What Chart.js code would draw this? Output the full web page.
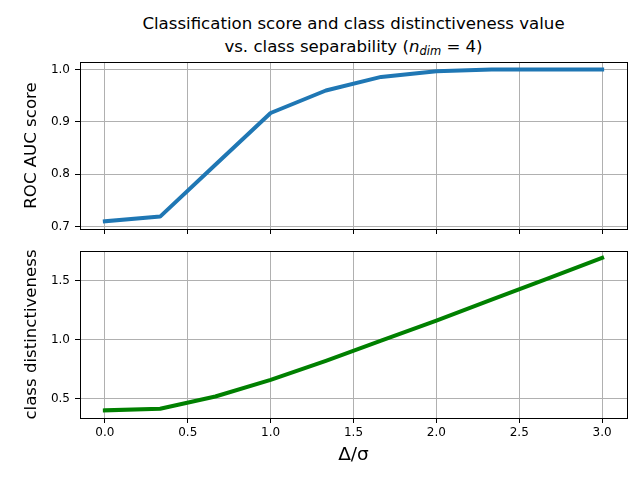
<!DOCTYPE html>
<html>
<head>
<meta charset="utf-8">
<script src="https://cdn.jsdelivr.net/npm/chart.js@4"></script>
<style>
  body { margin: 0; background: #fff; }
  #wrap { position: relative; width: 640px; height: 480px; font-family: "DejaVu Sans", sans-serif; }
  #title { position: absolute; left: 80px; width: 547px; top: 12px; text-align: center;
           font-size: 16.6px; line-height: 23px; color: #000; }
  #title sub { font-size: 11.5px; font-style: italic; vertical-align: -3px; line-height: 0; }
  canvas { position: absolute; left: 0; }
</style>
</head>
<body>
<div id="wrap">
  <div id="title">Classification score and class distinctiveness value<br>vs. class separability (<i>n</i><sub>dim</sub> = 4)</div>
  <canvas id="top" width="640" height="240" style="top:0"></canvas>
  <canvas id="bottom" width="640" height="240" style="top:240px"></canvas>
</div>
<script>
// delta / sigma
const separability = [0, 1/3, 2/3, 1, 4/3, 5/3, 2, 7/3, 8/3, 3];
const rocAuc = [0.710, 0.719, 0.818, 0.917, 0.960, 0.986, 0.997, 1.0, 1.0, 1.0];
const distinctiveness = [0.399, 0.413, 0.517, 0.659, 0.821, 0.992, 1.162, 1.341, 1.517, 1.697];

const xTicks = [0, 0.5, 1, 1.5, 2, 2.5, 3];
const rocTicks = [0.7, 0.8, 0.9, 1.0];
const distTicks = [0.5, 1.0, 1.5];

Chart.defaults.font.family = "DejaVu Sans";
Chart.defaults.color = "#000";

// matplotlib style box round the plot area
const boxPlugin = {
  id: "box",
  afterDatasetsDraw(chart) {
    const a = chart.chartArea;
    const ctx = chart.ctx;
    ctx.save();
    ctx.strokeStyle = "#000";
    ctx.lineWidth = 1;
    ctx.strokeRect(Math.round(a.left) + 0.5, Math.round(a.top) + 0.5,
      Math.round(a.right - a.left), Math.round(a.bottom - a.top));
    ctx.restore();
  }
};

function fixSize(w, h) {
  return function (scale) {
    if (w != null) scale.width = w;
    if (h != null) scale.height = h;
    scale.paddingTop = 0;
    scale.paddingBottom = 0;
    scale.paddingLeft = 0;
    scale.paddingRight = 0;
  };
}

function setTicks(arr) {
  return function (scale) {
    scale.ticks = arr.map(v => ({ value: v }));
  };
}

const grid = { color: "#b0b0b0", lineWidth: 1, tickColor: "#000", tickLength: 5, tickWidth: 1 };

function makeChart(id, values, color, yTicks, yMin, yMax, yLabel, isBottom, padTop) {
  const points = separability.map((x, i) => ({ x: x, y: values[i] }));
  return new Chart(document.getElementById(id), {
    type: "line",
    data: {
      datasets: [{
        data: points,
        borderColor: color,
        borderWidth: 4,
        pointRadius: 0,
        tension: 0,
        borderCapStyle: "square",
        borderJoinStyle: "round",
        fill: false
      }]
    },
    options: {
      responsive: false,
      animation: false,
      layout: { padding: { top: padTop, right: 13, left: 0, bottom: 0 } },
      plugins: { legend: { display: false }, tooltip: { enabled: false } },
      scales: {
        x: {
          type: "linear",
          min: -0.15,
          max: 3.15,
          afterBuildTicks: setTicks(xTicks),
          afterFit: fixSize(null, isBottom ? 62 : 11),
          grid: grid,
          border: { color: "#000", width: 1 },
          ticks: {
            display: isBottom,
            padding: 3,
            maxRotation: 0,
            font: { size: 12 },
            callback: v => v.toFixed(1)
          },
          title: {
            display: isBottom,
            text: "Δ/σ",
            font: { size: 18.5 },
            padding: { top: 0, bottom: 14 }
          }
        },
        y: {
          min: yMin,
          max: yMax,
          afterBuildTicks: setTicks(yTicks),
          afterFit: fixSize(80, null),
          grid: grid,
          border: { color: "#000", width: 1 },
          ticks: { padding: 5, font: { size: 12 }, callback: v => v.toFixed(1) },
          title: {
            display: true,
            text: yLabel,
            font: { size: 16.6 },
            padding: { top: 22, bottom: 0 }
          }
        }
      }
    },
    plugins: [boxPlugin]
  });
}

makeChart("top", rocAuc, "#1f77b4", rocTicks, 0.6953, 1.0145, "ROC AUC score", false, 62);
makeChart("bottom", distinctiveness, "#008000", distTicks, 0.334, 1.755, "class distinctiveness", true, 11);
</script>
</body>
</html>
